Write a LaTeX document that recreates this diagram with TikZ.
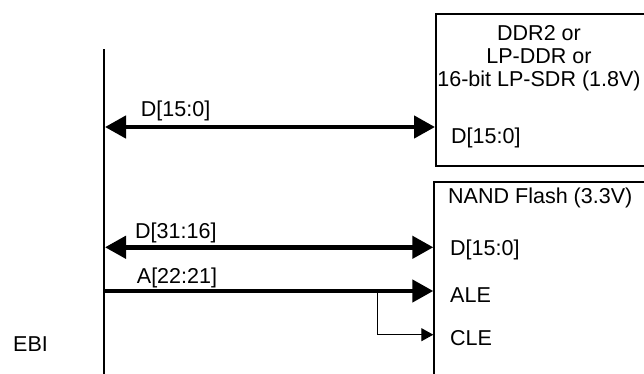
\documentclass[tikz,border=0pt]{standalone}
\usepackage{fontspec}
\setmainfont{Liberation Sans}
\usetikzlibrary{arrows.meta}

\begin{document}
\begin{tikzpicture}[
    x=1bp, y=1bp,
    font=\fontsize{21.6}{23}\selectfont,
    chip/.style={draw, line width=2bp, inner sep=0pt, anchor=north west, minimum width=240bp},
    pin/.style={anchor=base west, inner sep=0pt},
    sig/.style={anchor=base west, inner sep=0pt},
    wide/.style={line width=4.5bp, -{Triangle[length=21bp, width=22bp]}},
    both/.style={wide, {Triangle[length=21bp, width=22bp]}-{Triangle[length=21bp, width=22bp]}},
    thin/.style={line width=1bp, -{Triangle[length=12bp, width=13bp]}}
  ]
    \clip (0,0) rectangle (644,373);

    % EBI side
    \coordinate (bustop) at (104,324);
    \coordinate (busbot) at (104,-5);
    \draw[line width=2.5bp] (bustop) -- (busbot);
    \node[sig] (ebi) at (13,22) {EBI};

    % memories
    \node[chip, minimum height=152bp] (ddr) at (435,359.7) {};
    \node[anchor=base, inner sep=0pt, align=center] (ddrname) at (539,286.5)
      {DDR2 or\\LP-DDR or\\16-bit LP-SDR (1.8V)};
    \node[pin] (ddrd) at (451,230) {D[15:0]};

    \node[chip, minimum height=220bp] (nand) at (433.3,192) {};
    \node[pin] (nandname) at (448,170) {NAND Flash (3.3V)};
    \node[pin] (nandd) at (450,118) {D[15:0]};
    \node[pin] (ale) at (450,71) {ALE};
    \node[pin] (cle) at (450,28) {CLE};

    % signals
    \coordinate (b1) at (105,246);
    \coordinate (b2) at (105,125.7);
    \coordinate (b3) at (103,82);
    \coordinate (split) at (377.3,82);
    \coordinate (clein) at (433.3,38.3);

    \draw[both] (b1) -- (b1 -| ddr.west);
    \draw[both] (b2) -- (b2 -| nand.west);
    \draw[wide] (b3) -- (b3 -| nand.west);
    \draw[thin] (split) |- (clein);

    \node[sig] (l1) at (140.7,256.3) {D[15:0]};
    \node[sig] (l2) at (135,135) {D[31:16]};
    \node[sig] (l3) at (136.7,90) {A[22:21]};
\end{tikzpicture}
\end{document}
